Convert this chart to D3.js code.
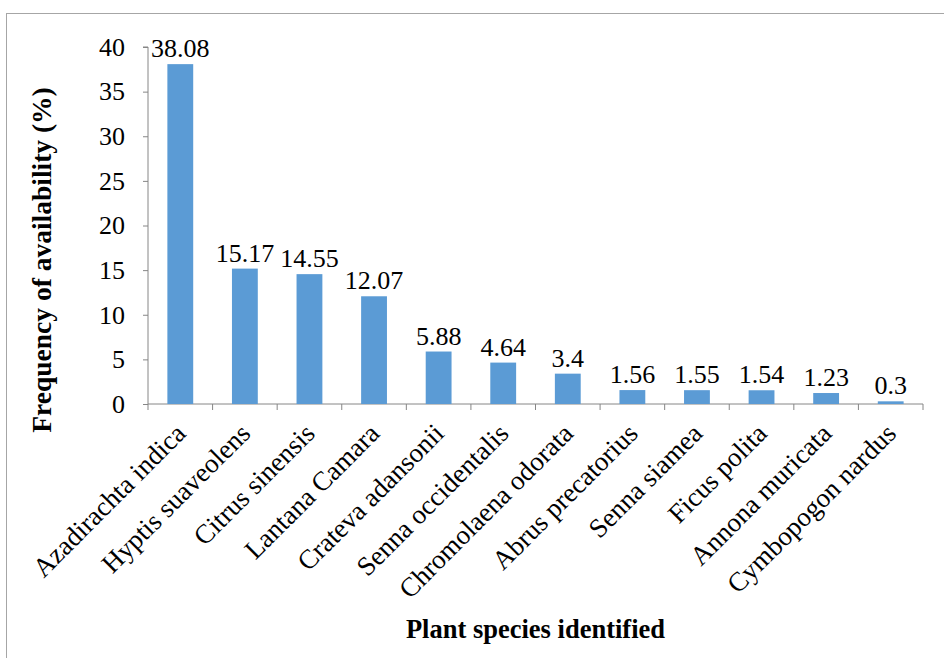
<!DOCTYPE html>
<html>
<head>
<meta charset="utf-8">
<script src="https://cdn.jsdelivr.net/npm/d3@7"></script>
<style>
  body { margin: 0; background: #fff; }
  svg text { font-family: "Times New Roman", "Liberation Serif", "DejaVu Serif", serif; fill: #000; }
</style>
</head>
<body>
<div id="chart"></div>
<script>
// Data
const species = ["Azadirachta indica", "Hyptis suaveolens", "Citrus sinensis", "Lantana Camara",
    "Crateva adansonii", "Senna occidentalis", "Chromolaena odorata", "Abrus precatorius",
    "Senna siamea", "Ficus polita", "Annona muricata", "Cymbopogon nardus"]
const frequency = [38.08, 15.17, 14.55, 12.07, 5.88, 4.64, 3.4, 1.56, 1.55, 1.54, 1.23, 0.3]
const yTicks = [0, 5, 10, 15, 20, 25, 30, 35, 40]

const outerWidth = 944
const outerHeight = 658
const margin = {top: 47, left: 148, right: 21, bottom: 254}
const width = outerWidth - margin.left - margin.right
const height = outerHeight - margin.top - margin.bottom
const serif = '"Times New Roman", "Liberation Serif", "DejaVu Serif", serif'

const svg = d3.select("#chart")
    .append("svg")
    .attr("width", outerWidth)
    .attr("height", outerHeight)
    .attr("font-family", serif)

// Outer frame
svg.append("rect")
    .attr("x", 6.5)
    .attr("y", 13.5)
    .attr("width", 1000)
    .attr("height", 800)
    .attr("fill", "none")
    .attr("stroke", "#a6a6a6")

const g = svg.append("g")
    .attr("transform", `translate(${margin.left}, ${margin.top})`)

const x = d3.scaleBand()
    .domain(species)
    .range([0, width])
    .paddingInner(0.6)
    .paddingOuter(0.3)

const xTicks = d3.scaleBand()
    .domain(species)
    .range([0, width])

const y = d3.scaleLinear()
    .domain([0, 40])
    .range([height, 0])

// Y axis
const yAxis = g.append("g")
    .call(d3.axisLeft(y).tickValues(yTicks).tickSize(5).tickPadding(18))
yAxis.attr("font-family", serif)
yAxis.selectAll("text")
    .style("font-size", "26px")
yAxis.selectAll("line, path").attr("stroke", "#868686")
yAxis.select(".domain").attr("d", `M-5,${y(40)}H0V${height}`)

// X axis
const xAxis = g.append("g")
    .attr("transform", `translate(0, ${height})`)
xAxis.append("line")
    .attr("x1", 0).attr("x2", width)
    .attr("stroke", "#868686")
xAxis.selectAll(".tick")
    .data(species.concat(["end"]))
    .enter()
    .append("line")
    .attr("x1", (d, i) => i * xTicks.bandwidth())
    .attr("x2", (d, i) => i * xTicks.bandwidth())
    .attr("y1", 0).attr("y2", 6)
    .attr("stroke", "#868686")

xAxis.selectAll(".cat")
    .data(species)
    .enter()
    .append("text")
    .attr("class", "cat")
    .attr("text-anchor", "end")
    .attr("transform", d => `translate(${xTicks(d) + xTicks.bandwidth() / 2 + 7}, 31) rotate(-45)`)
    .style("font-size", "27px")
    .text(d => d)

// Bars
g.selectAll(".bar")
    .data(frequency)
    .enter()
    .append("rect")
    .attr("class", "bar")
    .attr("x", (d, i) => x(species[i]))
    .attr("y", d => y(d))
    .attr("width", x.bandwidth())
    .attr("height", d => height - y(d))
    .attr("fill", "#5b9bd5")

// Value labels
g.selectAll(".val")
    .data(frequency)
    .enter()
    .append("text")
    .attr("class", "val")
    .attr("x", (d, i) => x(species[i]) + x.bandwidth() / 2)
    .attr("y", d => y(d) - 7)
    .attr("text-anchor", "middle")
    .style("font-size", "26px")
    .text(d => d)

// Axis titles
svg.append("text")
    .attr("transform", `translate(51, 260) rotate(-90)`)
    .attr("text-anchor", "middle")
    .style("font-size", "27.5px")
    .style("font-weight", "bold")
    .text("Frequency of availability (%)")

svg.append("text")
    .attr("x", margin.left + width / 2)
    .attr("y", 638)
    .attr("text-anchor", "middle")
    .style("font-size", "26.5px")
    .style("font-weight", "bold")
    .text("Plant species identified")
</script>
</body>
</html>
